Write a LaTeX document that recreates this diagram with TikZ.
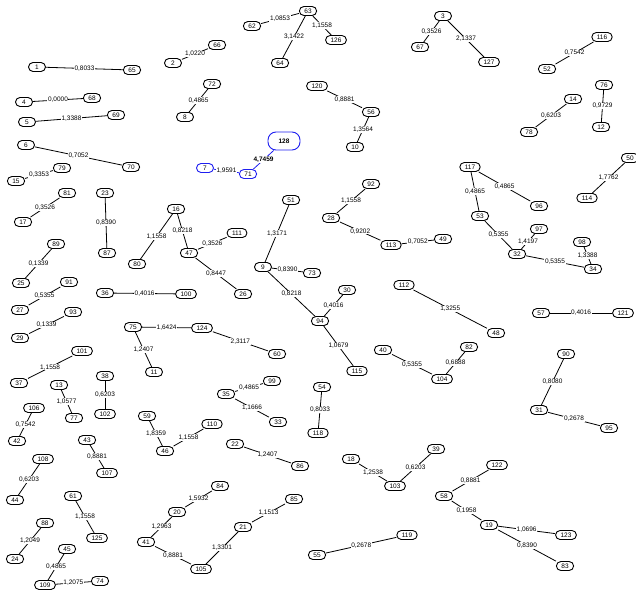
\documentclass[tikz,border=0pt]{standalone}
\usepackage{fontspec}
\setmainfont{Liberation Sans}
\usepackage{tikz}
\definecolor{markblau}{RGB}{30, 30, 240}

\begin{document}
\begin{tikzpicture}[x=1pt, y=-1pt,
				knoten/.style={draw, line width=0.9pt, rounded corners=4.5pt, minimum width=17pt, minimum height=9pt, inner xsep=5pt, inner ysep=1pt},
				gewicht/.style={fill=white, inner sep=0.6pt},
				kante/.style={line width=0.8pt},
				font=\fontsize{6.5}{7}\selectfont]
				%Bildbereich
				\useasboundingbox (0,0) rectangle (636,597);
				% Knoten setzen
				\foreach \n/\x/\y in {1/37/67, 65/132/70, 2/173/63, 66/217/45, 72/212/84, 8/185/117,
					4/24/102, 68/92/98, 5/27/122, 69/116/115, 6/26/145, 70/131/167, 79/62/168, 15/16/181,
					63/308/11, 62/252/26, 126/336/40, 64/280/63, 120/317/86, 56/371/112, 10/355/147,
					92/371/184, 51/291/200, 3/443/16, 67/420/47, 127/489/62, 116/602/37, 52/547/69,
					14/573/99, 78/529/132, 76/604/85, 12/601/127, 117/470/167, 50/630/158, 114/587/198,
					96/539/206, 53/480/216, 97/539/229, 49/443/239, 32/517/254, 98/582/242, 34/593/269,
					112/404/285, 48/496/333, 57/541/313, 121/623/313, 82/469/347, 104/442/379, 90/566/354,
					40/383/350, 31/539/410, 95/609/428, 39/436/449, 122/497/465, 58/444/496, 19/489/525,
					123/566/535, 83/565/566, 35/226/394, 33/278/422, 54/322/387, 118/318/433, 110/212/424,
					22/235/444, 86/300/466, 18/351/459, 103/395/486, 84/220/486, 85/294/499, 21/243/527,
					105/201/569, 55/317/555, 119/407/535, 13/59/385, 77/74/418, 38/105/376, 102/105/414,
					106/34/408, 42/17/441, 59/147/416, 46/165/451, 43/87/440, 107/107/473, 108/43/459,
					44/15/500, 61/73/496, 125/97/538, 88/45/523, 24/15/559, 45/67/549, 109/45/585,
					74/100/581, 20/177/512, 41/146/542, 81/67/193, 17/23/222, 23/105/193, 87/107/253,
					16/176/209, 80/137/264, 47/189/253, 111/237/233, 26/243/294, 89/56/244, 25/21/283,
					91/69/282, 27/20/310, 93/73/312, 29/20/338, 36/105/293, 100/186/294, 75/133/327,
					124/202/328, 11/154/372, 101/82/351, 37/19/383, 9/263/267, 73/312/273, 94/320/321,
					30/347/290, 115/357/371, 60/277/354, 28/331/218, 113/391/245, 99/272/381}
					\node[knoten] (n\n) at (\x,\y) {\n};
				% markierte Knoten
				\node[knoten, markblau] (n7) at (205,168) {\textcolor{black}{7}};
				\node[knoten, markblau] (n71) at (248,174) {\textcolor{black}{71}};
				\node[knoten, markblau, minimum width=32pt, minimum height=18pt, rounded corners=8pt] (n128) at (284,141) {\textcolor{black}{\bfseries 128}};
				% Kanten mit Gewichten
				\foreach \a/\b/\w in {1/65/{0,8033}, 2/66/{1,0220}, 72/8/{0,4865}, 4/68/{0,0000},
					5/69/{1,3388}, 6/70/{0,7052}, 79/15/{0,3353}, 63/62/{1,0853}, 63/126/{1,1558},
					63/64/{3,1422}, 120/56/{0,8881}, 56/10/{1,3564}, 92/28/{1,1558}, 28/113/{0,9202},
					113/49/{0,7052}, 51/9/{1,3171}, 9/73/{0,8390}, 9/94/{0,8218}, 94/30/{0,4016},
					94/115/{1,0679}, 3/67/{0,3526}, 3/127/{2,1337}, 116/52/{0,7542}, 14/78/{0,6203},
					76/12/{0,9729}, 117/53/{0,4865}, 117/96/{0,4865}, 50/114/{1,7762}, 53/32/{0,5355},
					97/32/{1,4197}, 32/34/{0,5355}, 98/34/{1,3388}, 112/48/{1,3255}, 57/121/{0,4016},
					82/104/{0,6888}, 40/104/{0,5355}, 90/31/{0,8080}, 31/95/{0,2678}, 103/39/{0,6203},
					18/103/{1,2538}, 122/58/{0,8881}, 58/19/{0,1958}, 19/123/{1,0696}, 19/83/{0,8390},
					35/99/{0,4865}, 35/33/{1,1666}, 54/118/{0,8033}, 22/86/{1,2407}, 110/46/{1,1558},
					59/46/{1,8359}, 84/20/{1,5932}, 20/41/{1,2963}, 41/105/{0,8881}, 85/21/{1,1513},
					21/105/{1,3301}, 55/119/{0,2678}, 13/77/{1,0577}, 38/102/{0,6203}, 106/42/{0,7542},
					43/107/{0,8881}, 108/44/{0,6203}, 61/125/{1,1558}, 88/24/{1,2049}, 45/109/{0,4865},
					109/74/{1,2075}, 81/17/{0,3526}, 23/87/{0,8390}, 16/80/{1,1558}, 16/47/{0,8218},
					47/111/{0,3526}, 47/26/{0,8447}, 89/25/{0,1339}, 91/27/{0,5355}, 93/29/{0,1339},
					36/100/{0,4016}, 75/124/{1,6424}, 75/11/{1,2407}, 124/60/{2,3117}, 101/37/{1,1558}}
					\draw[kante] (n\a) -- (n\b) node[gewicht, midway] {\w};
				% markierter Pfad
				\draw[kante, markblau] (n7) -- (n71) node[gewicht, midway, text=black] {1,9591};
				\draw[kante, markblau] (n71) -- (n128) node[gewicht, midway, text=black, font=\fontsize{6.5}{7}\selectfont\bfseries] {4,7459};
			\end{tikzpicture}
\end{document}
